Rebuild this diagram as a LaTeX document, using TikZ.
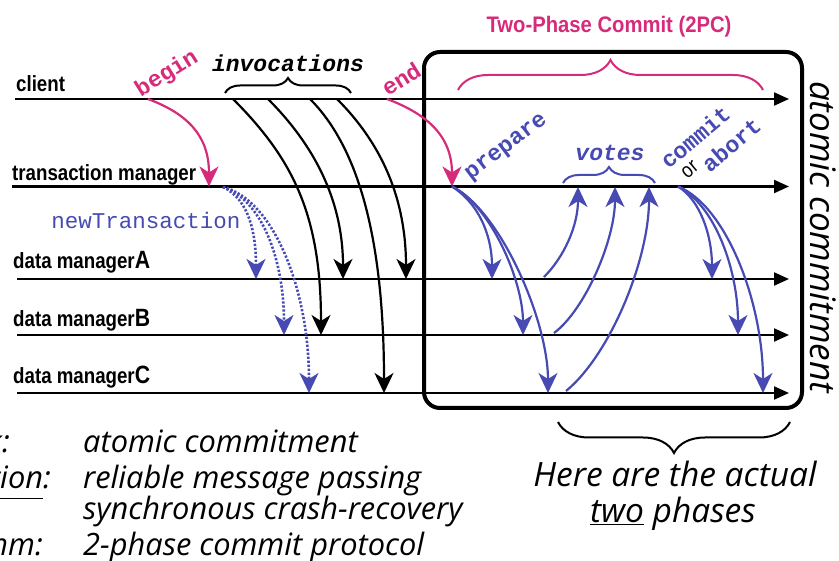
\documentclass[tikz,border=0pt]{standalone}
\usepackage{fontspec}
\setmainfont{Liberation Sans}
\setmonofont{Liberation Mono}
\newfontfamily\labfont[FakeStretch=0.85]{Liberation Sans}
\newfontfamily\titfont[FakeStretch=0.9]{Liberation Sans}
\newfontfamily\handfont{Open Sans}
\newcommand\dmletter[1]{{\fontsize{25}{26}\selectfont #1}}
\usetikzlibrary{arrows.meta,decorations.pathreplacing}
\definecolor{mag}{RGB}{214,43,122}
\definecolor{vblue}{RGB}{70,74,178}
\begin{document}
\begin{tikzpicture}[x=1pt,y=-1pt,
  tline/.style={line width=2.2pt,-{Triangle[length=15pt,width=13pt]}},
  msg/.style={line width=2.2pt,-{Stealth[length=20pt,width=19pt,inset=6pt]}},
  dotmsg/.style={msg,vblue,line width=2.6pt,dash pattern=on 2.2pt off 1.8pt},
  lab/.style={font=\labfont\bfseries\fontsize{22}{24}\selectfont,anchor=base west,inner sep=0pt},
  hand/.style={font=\handfont\itshape\fontsize{30.8}{33}\selectfont,inner sep=0pt},
  handr/.style={font=\handfont\itshape\fontsize{33.5}{35}\selectfont,inner sep=0pt},
  code/.style={font=\ttfamily\bfseries\fontsize{23}{25}\selectfont,inner sep=0pt},
  codei/.style={font=\ttfamily\bfseries\itshape\fontsize{23}{25}\selectfont,inner sep=0pt}
]
\useasboundingbox (0,0) rectangle (839,561);

% timelines
\coordinate (c0) at (15,99);    \coordinate (c1) at (789,99);
\coordinate (t0) at (12,186.5); \coordinate (t1) at (789,186.5);
\coordinate (a0) at (17,279);   \coordinate (a1) at (789,279);
\coordinate (b0) at (17,335);   \coordinate (b1) at (789,335);
\coordinate (k0) at (17,393);   \coordinate (k1) at (789,393);
\draw[tline] (c0) -- (c1);
\draw[tline] (t0) -- (t1);
\draw[tline] (a0) -- (a1);
\draw[tline] (b0) -- (b1);
\draw[tline] (k0) -- (k1);

% labels
\node[lab] (lc) at (16,92) {client};
\node[lab] (lt) at (12,181) {transaction manager};
\node[lab] (la) at (13,269) {data manager\dmletter{A}};
\node[lab] (lb) at (13,327) {data manager\dmletter{B}};
\node[lab] (lk) at (13,384) {data manager\dmletter{C}};

% 2PC box
\node[draw,line width=4pt,rounded corners=16pt,minimum width=378pt,minimum height=356pt,inner sep=0pt] (box) at (613,230) {};
\node[font=\titfont\bfseries\fontsize{22.5}{24}\selectfont,text=mag] (title) at (609,27) {Two-Phase Commit (2PC)};
\draw[mag,line width=2pt,decorate,decoration={brace,amplitude=30pt}] (458,90) -- (763,90);

% invocations
\node[codei] (inv) at (288,63) {invocations};
\draw[line width=2pt,decorate,decoration={brace,amplitude=15pt}] (225,93) -- (351,93);

\coordinate (i1) at (233,99); \coordinate (i2) at (268,99);
\coordinate (i3) at (310,99); \coordinate (i4) at (337,99);
\coordinate (ib) at (321,335); \coordinate (ia1) at (343,279);
\coordinate (ic) at (384,393); \coordinate (ia2) at (406,279);
\draw[msg] (i1) .. controls (293,159) and (321,215) .. (ib);
\draw[msg] (i2) .. controls (313,144) and (343,199) .. (ia1);
\draw[msg] (i3) .. controls (360,149) and (384,243) .. (ic);
\draw[msg] (i4) .. controls (382,144) and (406,199) .. (ia2);

% begin / end
\node[code,rotate=32,text=mag] (begin) at (167,74) {begin};
\node[code,rotate=32,text=mag] (endl) at (401,79) {end};
\coordinate (bs) at (148,99); \coordinate (be) at (209,186.5);
\coordinate (es) at (387,99); \coordinate (ee) at (452,186.5);
\draw[msg,mag] (bs) .. controls (188,114) and (209,136) .. (be);
\draw[msg,mag] (es) .. controls (427,114) and (452,136) .. (ee);

% newTransaction
\node[font=\ttfamily\fontsize{22.5}{24}\selectfont,text=vblue,inner sep=0pt] (nt) at (146,220) {newTransaction};
\coordinate (ns) at (223,187);
\coordinate (na) at (256,279); \coordinate (nb) at (284,335); \coordinate (nc) at (309,393);
\draw[dotmsg] (ns) .. controls (250,200) and (256,235) .. (na);
\draw[dotmsg] (ns) .. controls (262,200) and (284,260) .. (nb);
\draw[dotmsg] (ns) .. controls (274,200) and (309,290) .. (nc);

% prepare
\node[code,rotate=37,text=vblue] (prep) at (507,148) {prepare};
\coordinate (pa) at (492,279); \coordinate (pb) at (523,335); \coordinate (pc) at (548,393);
\draw[msg,vblue] (ee) .. controls (482,206) and (492,240) .. (pa);
\draw[msg,vblue] (ee) .. controls (490,205) and (523,280) .. (pb);
\draw[msg,vblue] (ee) .. controls (500,210) and (548,320) .. (pc);

% votes
\node[codei,text=vblue] (votes) at (610,153) {votes};
\draw[vblue,line width=2pt,decorate,decoration={brace,amplitude=16pt}] (563,183) -- (655,183);
\coordinate (va) at (544,277); \coordinate (vb) at (554,333); \coordinate (vc) at (566,391);
\coordinate (v1) at (578,187); \coordinate (v2) at (615,187); \coordinate (v3) at (649,187);
\draw[msg,vblue] (va) .. controls (564,257) and (578,226) .. (v1);
\draw[msg,vblue] (vb) .. controls (585,310) and (615,240) .. (v2);
\draw[msg,vblue] (vc) .. controls (610,355) and (649,260) .. (v3);

% commit or abort
\node[code,rotate=40,text=vblue] (commit) at (695,137) {commit};
\node[code,rotate=40,text=vblue] (abort) at (731,145) {abort};
\node[font=\labfont\fontsize{21}{22}\selectfont,rotate=40,inner sep=0pt] (orl) at (690,170) {or};
\coordinate (cs) at (678,186.5);
\coordinate (ca) at (712,279); \coordinate (cb) at (738,335); \coordinate (cc) at (763,393);
\draw[msg,vblue] (cs) .. controls (700,200) and (712,235) .. (ca);
\draw[msg,vblue] (cs) .. controls (715,205) and (738,270) .. (cb);
\draw[msg,vblue] (cs) .. controls (725,205) and (763,300) .. (cc);

% right vertical text
\node[font=\handfont\itshape\fontsize{35}{36}\selectfont,inner sep=0pt,rotate=-90] (acv) at (823,237) {atomic commitment};

% bottom brace and text
\draw[line width=2pt,decorate,decoration={brace,amplitude=31pt,mirror}] (558,422) -- (790,422);
\node[handr,anchor=base] (h1) at (675,487) {Here are the actual};
\node[handr,anchor=base] (h2) at (673,522) {\underline{two} phases};

% bottom left text
\node[hand,anchor=base east] (q1) at (10,453) {Task:};
\node[hand,anchor=base east] (q2) at (51,489) {\underline{Assumption}:};
\node[hand,anchor=base east] (q4) at (43,555) {Algorithm:};
\node[hand,anchor=base west] (p1) at (83,453) {atomic commitment};
\node[hand,anchor=base west] (p2) at (83,489) {reliable message passing};
\node[hand,anchor=base west] (p3) at (83,520) {synchronous crash-recovery};
\node[hand,anchor=base west] (p4) at (83,555) {2-phase commit protocol};
\end{tikzpicture}
\end{document}
